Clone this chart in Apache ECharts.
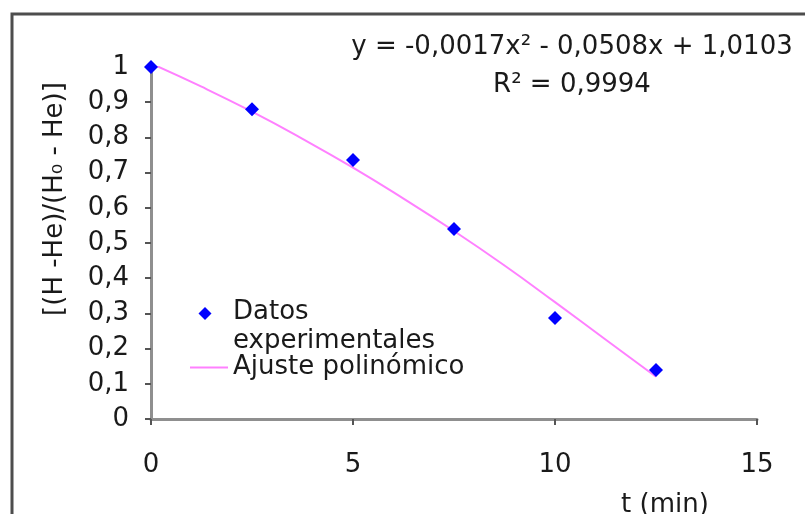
<!DOCTYPE html>
<html>
<head>
<meta charset="utf-8">
<style>
  html, body { margin: 0; padding: 0; background: #ffffff; }
  #chart { width: 805px; height: 514px; }
</style>
<script src="https://cdn.jsdelivr.net/npm/echarts@6/dist/echarts.min.js"></script>
</head>
<body>
<div id="chart"></div>
<script>
// ---- data ----
const timeMin = [0, 2.5, 5, 7.5, 10, 12.5];
const ratioMeasured = [1.0, 0.88, 0.736, 0.54, 0.287, 0.139];
const fitTime = [0, 1.25, 2.5, 3.75, 5, 6.25, 7.5, 8.75, 10, 11.25, 12.5];
const fitRatio = [1.010, 0.944, 0.873, 0.796, 0.714, 0.626, 0.534, 0.436, 0.332, 0.226, 0.12];
const xTickLabels = ['0', '5', '10', '15'];
const yTickLabels = ['0', '0,1', '0,2', '0,3', '0,4', '0,5', '0,6', '0,7', '0,8', '0,9', '1'];
const equationText = 'y = -0,0017x² - 0,0508x + 1,0103';
const r2Text = 'R² = 0,9994';
const seriesNames = ['Datos experimentales', 'Ajuste polinómico'];

const FONT = 'DejaVu Sans';
const FS = 26;
const TXT = '#1a1a1a';

const chart = echarts.init(document.getElementById('chart'), null, { renderer: 'canvas' });

// legend marker: diamond in the upper-left part of a 38x40 box (first text line)
const diamondIcon = 'path://M15,0 L21.5,6.5 L15,13 L8.5,6.5 Z M0,40 L0,40 M38,40 L38,40';

const option = {
  backgroundColor: '#ffffff',
  animation: false,
  textStyle: { fontFamily: FONT },
  grid: { left: 151, right: 48, top: 67, bottom: 95, containLabel: false, outerBoundsMode: 'none' },
  xAxis: {
    type: 'value', min: 0, max: 15, interval: 5,
    name: 't (min)', nameLocation: 'middle', nameGap: 73,
    nameTextStyle: { fontFamily: FONT, fontSize: FS, color: TXT, padding: [0, 0, 0, 422] },
    splitLine: { show: false },
    axisLine: { show: true, onZero: false, lineStyle: { color: '#8f8f8f', width: 3 } },
    axisTick: { show: true, length: 6, lineStyle: { color: '#555', width: 2 } },
    axisLabel: {
      margin: 33, fontFamily: FONT, fontSize: FS, color: TXT,
      formatter: v => xTickLabels[Math.round(v / 5)]
    }
  },
  yAxis: {
    type: 'value', min: 0, max: 1, interval: 0.1,
    name: '[(H -He)/(H₀ - He)]', nameLocation: 'middle', nameGap: 83, nameRotate: 90,
    nameTextStyle: { fontFamily: FONT, fontSize: FS, color: TXT, padding: [0, 0, 0, 88] },
    splitLine: { show: false },
    axisLine: { show: true, lineStyle: { color: '#8f8f8f', width: 3 } },
    axisTick: { show: true, length: 6, lineStyle: { color: '#555', width: 2 } },
    axisLabel: {
      margin: 22, fontFamily: FONT, fontSize: FS, color: TXT,
      formatter: v => yTickLabels[Math.round(v * 10)]
    }
  },
  legend: [
    {
      data: [seriesNames[0]], left: 190, top: 298, padding: 0,
      itemWidth: 38, itemHeight: 40, icon: diamondIcon,
      formatter: () => 'Datos\nexperimentales',
      itemStyle: { opacity: 1 },
      textStyle: { fontFamily: FONT, fontSize: FS, color: TXT, lineHeight: 29 }
    },
    {
      data: [seriesNames[1]], left: 190, top: 354, padding: 0,
      itemWidth: 38, itemHeight: 2, icon: 'rect',
      textStyle: { fontFamily: FONT, fontSize: FS, color: TXT, lineHeight: 27 }
    }
  ],
  graphic: [
    {
      type: 'rect', silent: true, z: 100,
      shape: { x: 12, y: 14, width: 900, height: 600 },
      style: { fill: 'none', stroke: '#4d4d4d', lineWidth: 3 }
    },
    {
      type: 'text', x: 572, y: 47,
      style: { text: equationText, font: FS + 'px "' + FONT + '"', fill: TXT, align: 'center', verticalAlign: 'middle' }
    },
    {
      type: 'text', x: 572, y: 85,
      style: { text: r2Text, font: FS + 'px "' + FONT + '"', fill: TXT, align: 'center', verticalAlign: 'middle' }
    }
  ],
  series: [
    {
      name: seriesNames[1], type: 'line', smooth: true, symbol: 'none', z: 2,
      lineStyle: { color: '#ff80ff', width: 2 },
      itemStyle: { color: '#ff80ff' },
      data: fitTime.map((t, i) => [t, fitRatio[i]])
    },
    {
      name: seriesNames[0], type: 'scatter', symbol: 'diamond', symbolSize: 14, z: 3,
      itemStyle: { color: '#0000ff', opacity: 1 },
      data: timeMin.map((t, i) => [t, ratioMeasured[i]])
    }
  ]
};
chart.setOption(option);
</script>
</body>
</html>
